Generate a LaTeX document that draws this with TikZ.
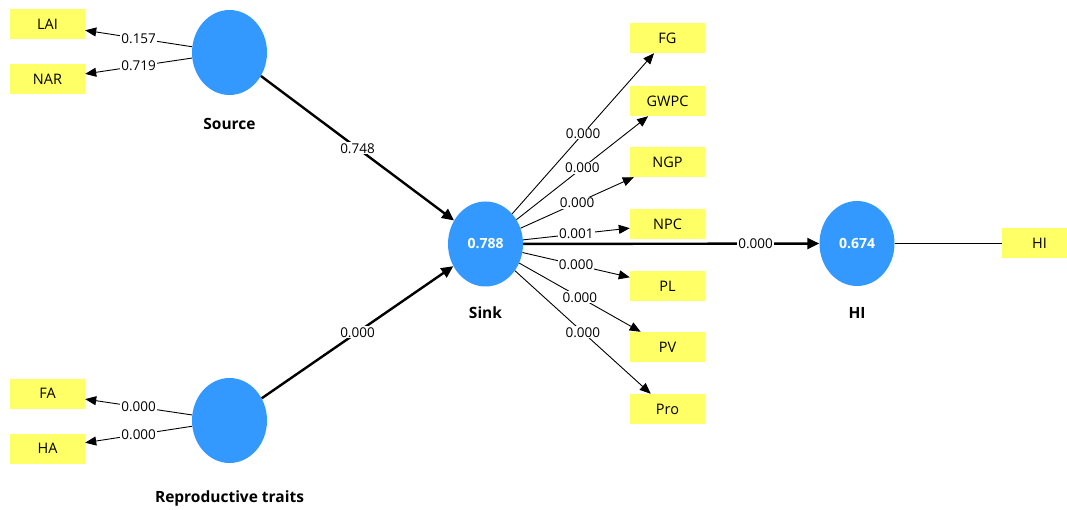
\documentclass[tikz,border=0pt]{standalone}
\usepackage{fontspec}
\setmainfont{Open Sans}
\usetikzlibrary{shapes.geometric,arrows.meta}

\definecolor{lvblue}{RGB}{51,153,255}
\definecolor{mvyellow}{RGB}{255,255,102}

\tikzset{
  lv/.style={ellipse,fill=lvblue,minimum width=75pt,minimum height=85pt,inner sep=0pt,
    text=white,font=\fontsize{14}{16}\selectfont\bfseries},
  mv/.style={rectangle,fill=mvyellow,minimum width=75pt,minimum height=30pt,inner sep=0pt,
    font=\fontsize{14.5}{16}\selectfont},
  lvname/.style={font=\fontsize{15.5}{18}\selectfont\bfseries},
  coef/.style={fill=white,inner sep=1pt,font=\fontsize{13.5}{15}\selectfont},
  ld/.style={line width=0.9pt,-{Triangle[length=11pt,width=9pt]}},
  pth/.style={line width=2.4pt,-{Triangle[length=12pt,width=11pt]}},
}

\begin{document}
\begin{tikzpicture}[x=1pt,y=-1pt]
  \useasboundingbox (0,0) rectangle (1067,510);
  % constructs
  \node[lv] (source) at (229.5,52.5) {};
  \node[lv] (repro) at (229.5,420.5) {};
  \node[lv] (sink) at (485.5,244) {0.788};
  \node[lv] (hi) at (857,243.5) {0.674};
  \node[lvname] (sourcename) at (229.5,124) {Source};
  \node[lvname] (reproname) at (229.5,498) {Reproductive traits};
  \node[lvname] (sinkname) at (485.5,313) {Sink};
  \node[lvname] (hiname) at (857,313) {HI};
  % indicators
  \node[mv] (lai) at (47.5,24.5) {LAI};
  \node[mv] (nar) at (47.5,79.5) {NAR};
  \node[mv] (fa) at (47.5,393.5) {FA};
  \node[mv] (ha) at (47.5,448.5) {HA};
  \node[mv] (fg) at (667.5,38) {FG};
  \node[mv] (gwpc) at (667.5,101) {GWPC};
  \node[mv] (ngp) at (667.5,162) {NGP};
  \node[mv] (npc) at (667.5,224) {NPC};
  \node[mv] (pl) at (667.5,286) {PL};
  \node[mv] (pv) at (667.5,347) {PV};
  \node[mv] (pro) at (667.5,409) {Pro};
  \node[mv] (hiind) at (1039.5,243.5) {HI};

  % inner model
  \draw[pth] (source) -- node[coef] {0.748} (sink);
  \draw[pth] (repro) -- node[coef] {0.000} (sink);
  \draw[pth] (sink) -- node[coef,pos=0.785] {0.000} (hi);
  \draw[line width=0.9pt] (hi) -- (hiind);

  % outer model
  \draw[ld] (source) -- node[coef] {0.157} (lai);
  \draw[ld] (source) -- node[coef] {0.719} (nar);
  \draw[ld] (repro) -- node[coef] {0.000} (fa);
  \draw[ld] (repro) -- node[coef] {0.000} (ha);
  \draw[ld] (sink) -- node[coef] {0.000} (fg);
  \draw[ld] (sink) -- node[coef] {0.000} (gwpc);
  \draw[ld] (sink) -- node[coef] {0.000} (ngp);
  \draw[ld] (sink) -- node[coef] {0.001} (npc);
  \draw[ld] (sink) -- node[coef] {0.000} (pl);
  \draw[ld] (sink) -- node[coef] {0.000} (pv);
  \draw[ld] (sink) -- node[coef] {0.000} (pro);
\end{tikzpicture}
\end{document}
